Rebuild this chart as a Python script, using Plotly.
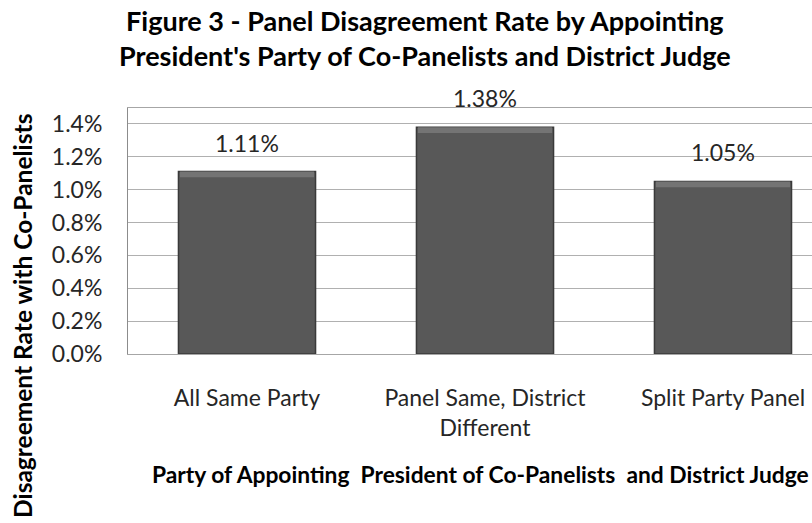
import plotly.graph_objects as go

# Chart data
categories = ["All Same Party", "Panel Same, District<br>Different", "Split Party Panel"]
rates = [1.11, 1.38, 1.05]  # percent
y_ticks = [0.0, 0.2, 0.4, 0.6, 0.8, 1.0, 1.2, 1.4]
y_tick_labels = [f"{v:.1f}%" for v in y_ticks]

FONT = "Lato, Calibri, 'Noto Sans', sans-serif"
x_pos = list(range(len(categories)))
BAR_W = 0.576
BEVEL = 0.035  # depth of the lighter top edge, in axis units

fig = go.Figure()
fig.add_trace(go.Bar(
    x=x_pos,
    y=rates,
    width=BAR_W,
    marker=dict(color="#585858", line=dict(color="#3A3A3A", width=1.5)),
    hoverinfo="skip",
))
# lighter bevel along the top of each bar
fig.add_trace(go.Bar(
    x=x_pos,
    y=[BEVEL] * len(rates),
    base=[v - BEVEL for v in rates],
    width=BAR_W - 0.012,
    marker=dict(color="#747474", line=dict(width=0)),
    hoverinfo="skip",
))

# value labels above each bar
for xi, v in zip(x_pos, rates):
    fig.add_annotation(x=xi, y=v, text=f"{v:.2f}%", showarrow=False,
                       yanchor="bottom", yshift=13,
                       font=dict(family=FONT, size=23, color="#262626"))

# chart title
fig.add_annotation(x=(425 - 128) / 684, y=1, xref="paper", yref="paper",
                   xanchor="center", yanchor="top", yshift=106,
                   text="<b>Figure 3 - Panel Disagreement Rate by Appointing<br>"
                        "President's Party of Co-Panelists and District Judge</b>",
                   showarrow=False, font=dict(family=FONT, size=27, color="#000000"))

# x-axis title, centred under the middle category
fig.add_annotation(x=1, y=0, xref="x", yref="paper", yanchor="top", yshift=-104,
                   xshift=-4,
                   text="<b>Party of Appointing  President of Co-Panelists  and District Judge</b>",
                   showarrow=False, font=dict(family=FONT, size=22.8, color="#000000"))

# y-axis title
fig.add_annotation(x=0, y=0.5, xref="paper", yref="paper", xanchor="center",
                   xshift=-106, yshift=-85,
                   text="<b>Disagreement Rate with Co-Panelists</b>", textangle=-90,
                   showarrow=False, font=dict(family=FONT, size=24.5, color="#000000"))

fig.update_layout(
    width=812, height=523,
    margin=dict(l=128, r=0, t=108, b=169),
    paper_bgcolor="white", plot_bgcolor="white",
    showlegend=False,
    barmode="overlay",
    xaxis=dict(
        range=[-0.5, 2.374],
        tickvals=x_pos, ticktext=categories,
        tickfont=dict(family=FONT, size=23, color="#262626"),
        showgrid=False, zeroline=False,
        showline=True, mirror=True, linecolor="#A6A6A6", linewidth=1,
        ticks="", ticklabelstandoff=23,
    ),
    yaxis=dict(
        range=[0, 1.497],
        tickvals=y_ticks, ticktext=y_tick_labels,
        tickfont=dict(family=FONT, size=23, color="#262626"),
        showgrid=True, gridcolor="#B0B0B0", gridwidth=1,
        zeroline=False,
        showline=True, linecolor="#8C8C8C", linewidth=1,
        ticks="", ticklabelstandoff=20,
    ),
)

fig.write_html("out.html")
